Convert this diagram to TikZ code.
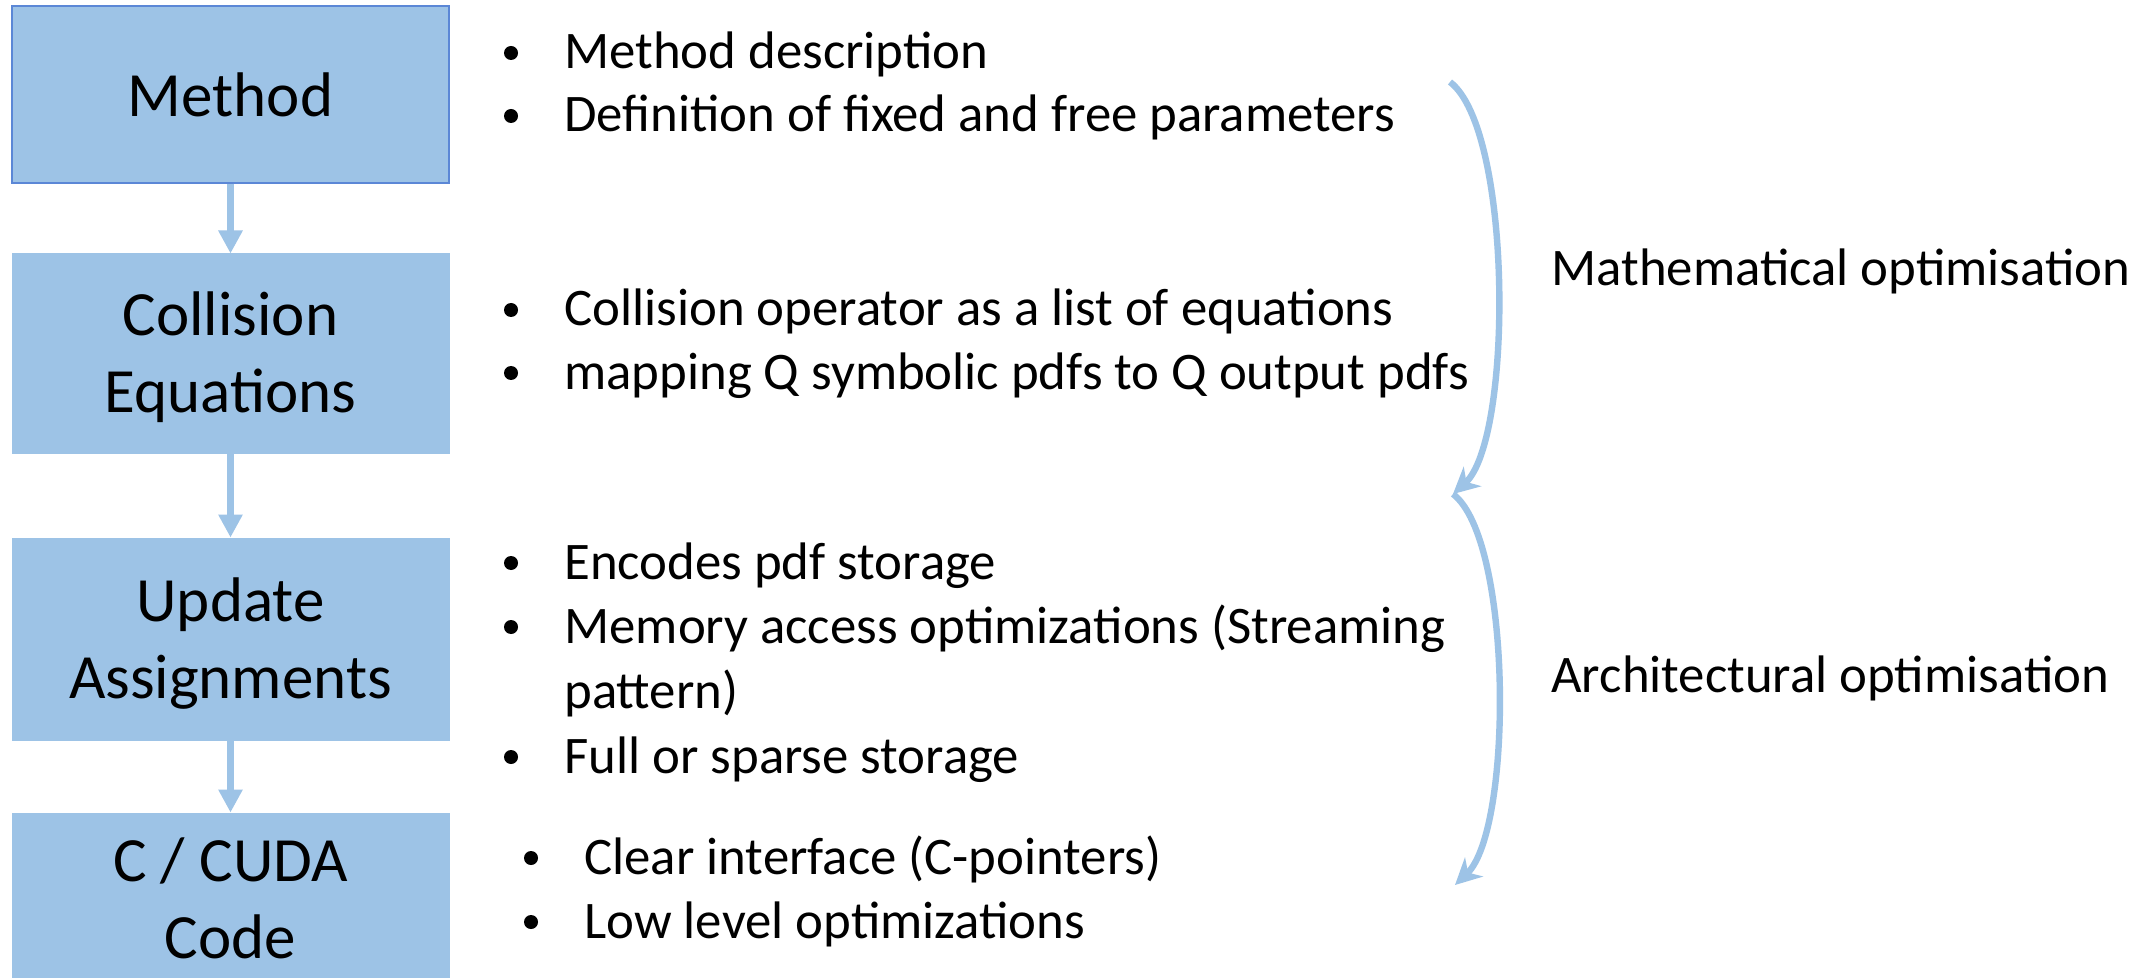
\documentclass[tikz,border=0pt]{standalone}
\usepackage{fontspec}
\setmainfont{Carlito}
\usetikzlibrary{arrows.meta}
\definecolor{boxblue}{HTML}{9DC3E6}
\definecolor{edgeblue}{HTML}{5B87D6}
\begin{document}
\begin{tikzpicture}[x=0.5pt,y=-0.5pt,
  box/.style={fill=boxblue, draw=boxblue, line width=0.5pt, minimum width=218.5pt,
    inner sep=0pt, align=center, font=\fontsize{31.5}{38.5}\selectfont},
  flow/.style={draw=boxblue, line width=3.6pt, -{Triangle[width=11.5pt,length=11.5pt]}},
  loop/.style={draw=boxblue, line width=3.2pt, -{Stealth[width=13pt,length=13pt,inset=4pt]}},
  item/.style={anchor=base west, inner sep=0pt, font=\fontsize{26.4}{32}\selectfont},
  dot/.style={circle, fill=black, inner sep=0pt, minimum size=7pt},
  side/.style={anchor=base west, inner sep=0pt, font=\fontsize{26.4}{32}\selectfont}
]
\useasboundingbox (0,0) rectangle (2156,978);
\clip (0,0) rectangle (2156,978);
\fill[white] (0,0) rectangle (2156,978);

% boxes
\node[box, draw=edgeblue, line width=0.7pt, minimum height=88.5pt] (m) at (230.5,94.5) {Method};
\node[box, minimum height=99.5pt] (c) at (230.5,353.5) {\rule{0pt}{26pt}Collision\\Equations};
\node[box, minimum height=101pt] (u) at (230.5,639) {\rule{0pt}{26pt}Update\\Assignments};
\node[box, minimum height=85pt] (k) at (230.5,898) {C / CUDA\\Code};

% flow arrows
\draw[flow] (m.south) -- (c.north);
\draw[flow] (c.south) -- (u.north);
\draw[flow] (u.south) -- (k.north);

% bullet items
\node[dot] (d1) at (511,53) {};
\node[item] (t1) at (564,69) {Method description};
\node[dot] (d2) at (511,116) {};
\node[item] (t2) at (564,132) {Definition of fixed and free parameters};

\node[dot] (d3) at (511,310) {};
\node[item] (t3) at (564,326) {Collision operator as a list of equations};
\node[dot] (d4) at (511,373) {};
\node[item] (t4) at (564,389) {mapping Q symbolic pdfs to Q output pdfs};

\node[dot] (d5) at (511,563) {};
\node[item] (t5) at (564,579) {Encodes pdf storage};
\node[dot] (d6) at (511,627) {};
\node[item] (t6) at (564,643) {Memory access optimizations (Streaming};
\node[item] (t7) at (564,708) {pattern)};
\node[dot] (d8) at (511,757) {};
\node[item] (t8) at (564,773) {Full or sparse storage};

\node[dot] (d9) at (531,858) {};
\node[item] (t9) at (584,874) {Clear interface (C-pointers)};
\node[dot] (d10) at (531,922) {};
\node[item] (t10) at (584,938) {Low level optimizations};

% side labels
\node[side] (s1) at (1551,286) {Mathematical optimisation};
\node[side] (s2) at (1551,692) {Architectural optimisation};

% curved arrows
\coordinate (p0) at (1450,82);
\coordinate (p1) at (1453,494);
\coordinate (p2) at (1455,885);
\draw[loop] (p0) .. controls (1513,130) and (1513,440) .. (p1);
\draw[loop] (p1) .. controls (1513,540) and (1513,830) .. (p2);
\end{tikzpicture}
\end{document}
